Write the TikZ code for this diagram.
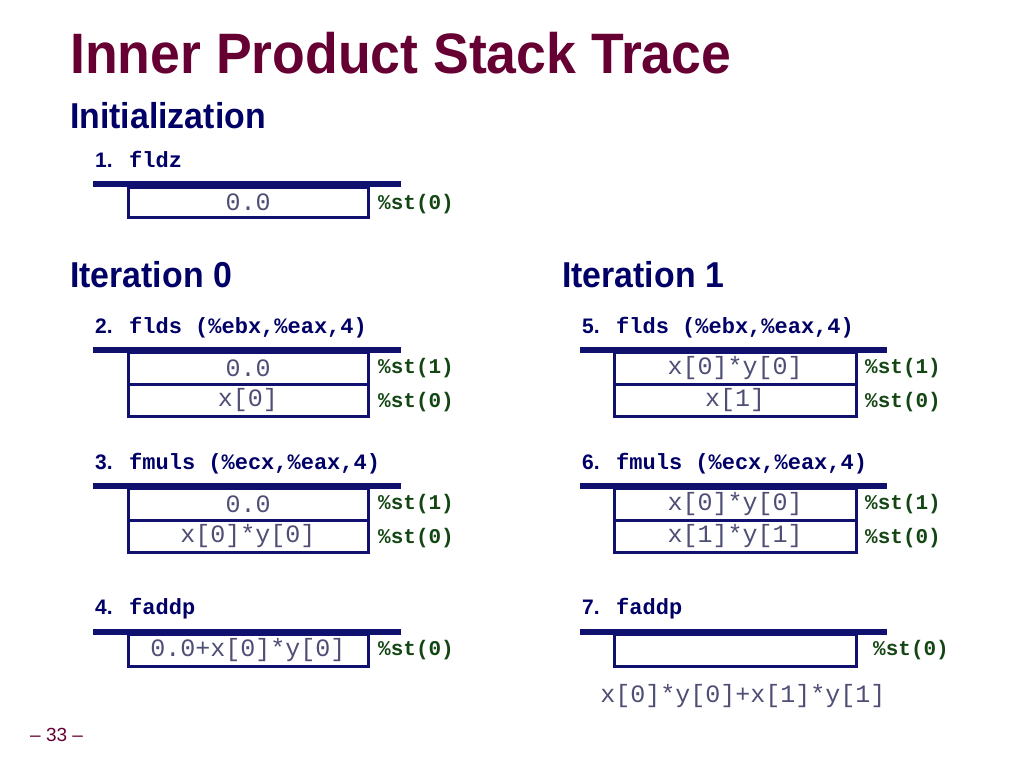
\documentclass[tikz,border=0pt]{standalone}
\usepackage{fontspec}
\setmainfont{Liberation Sans}
\setmonofont{Liberation Mono}
\newfontfamily\headfont{Liberation Sans}[FakeStretch=0.94]
\usetikzlibrary{positioning}
\definecolor{titlemaroon}{RGB}{102,0,51}
\definecolor{headnavy}{RGB}{0,0,102}
\definecolor{stacknavy}{RGB}{16,16,110}
\definecolor{cellgray}{RGB}{78,78,118}
\definecolor{reggreen}{RGB}{20,70,20}

\begin{document}
\begin{tikzpicture}[x=1pt, y=-1pt,
title/.style={anchor=base west, inner sep=0pt, text=titlemaroon, font=\headfont\bfseries\fontsize{57}{60}\selectfont},
head/.style={anchor=base west, inner sep=0pt, text=headnavy, font=\headfont\bfseries\fontsize{36}{40}\selectfont},
num/.style={anchor=base west, inner sep=0pt, text=headnavy, font=\bfseries\fontsize{21}{22}\selectfont},
instr/.style={anchor=base west, inner sep=0pt, text=headnavy, font=\ttfamily\bfseries\fontsize{22}{24}\selectfont},
cell/.style={draw=stacknavy, line width=3pt, minimum width=240pt, minimum height=32pt, inner sep=0pt, outer sep=0pt, text=cellgray, font=\ttfamily\fontsize{25}{26}\selectfont},
reg/.style={anchor=west, inner sep=0pt, text=reggreen, font=\ttfamily\bfseries\fontsize{21}{22}\selectfont},
bar/.style={draw=stacknavy, line width=6pt}
]
\useasboundingbox (0,0) rectangle (1024,768);
%Headings
\node[title] (ttl) at (70,74) {Inner Product Stack Trace};
\node[head]  (init) at (70,128) {Initialization};
\node[head]  (it0)  at (70,287) {Iteration 0};
\node[head]  (it1)  at (562,287) {Iteration 1};
\node[anchor=base west, inner sep=0pt, text=titlemaroon, font=\fontsize{19}{20}\selectfont] (page) at (30,741) {-- 33 --};
%Steps
\node[num]   (n1) at (95,167)  {1.};
\node[instr] (i1) at (129,167) {fldz};
\node[num]   (n2) at (95,333)  {2.};
\node[instr] (i2) at (129,333) {flds (\%ebx,\%eax,4)};
\node[num]   (n3) at (95,469)  {3.};
\node[instr] (i3) at (129,469) {fmuls (\%ecx,\%eax,4)};
\node[num]   (n4) at (95,614)  {4.};
\node[instr] (i4) at (129,614) {faddp};
\node[num]   (n5) at (582,333) {5.};
\node[instr] (i5) at (616,333) {flds (\%ebx,\%eax,4)};
\node[num]   (n6) at (582,469) {6.};
\node[instr] (i6) at (616,469) {fmuls (\%ecx,\%eax,4)};
\node[num]   (n7) at (582,614) {7.};
\node[instr] (i7) at (616,614) {faddp};
%Bars
\coordinate (b1l) at (93,184);  \coordinate (b1r) at (401,184);
\coordinate (b2l) at (93,350);  \coordinate (b2r) at (401,350);
\coordinate (b3l) at (93,486);  \coordinate (b3r) at (401,486);
\coordinate (b4l) at (93,632);  \coordinate (b4r) at (401,632);
\coordinate (b5l) at (580,350); \coordinate (b5r) at (887,350);
\coordinate (b6l) at (580,486); \coordinate (b6r) at (887,486);
\coordinate (b7l) at (580,632); \coordinate (b7r) at (887,632);
\draw[bar] (b1l) -- (b1r);
\draw[bar] (b2l) -- (b2r);
\draw[bar] (b3l) -- (b3r);
\draw[bar] (b4l) -- (b4r);
\draw[bar] (b5l) -- (b5r);
\draw[bar] (b6l) -- (b6r);
\draw[bar] (b7l) -- (b7r);
%Cells
\node[cell, minimum height=30pt] (c1) at (248,202) {0.0};
\node[cell]  (c2a) at (248,368)              {0.0};
\node[cell]  (c2b) [below=0pt of c2a]        {x[0]};
\node[cell]  (c3a) at (248,504)              {0.0};
\node[cell]  (c3b) [below=0pt of c3a]        {x[0]*y[0]};
\node[cell]  (c4)  at (248,650)              {0.0+x[0]*y[0]};
\node[cell, minimum width=242pt] (c5a) at (735,368) {x[0]*y[0]};
\node[cell, minimum width=242pt] (c5b) [below=0pt of c5a] {x[1]};
\node[cell, minimum width=242pt] (c6a) at (735,504) {x[0]*y[0]};
\node[cell, minimum width=242pt] (c6b) [below=0pt of c6a] {x[1]*y[1]};
\node[cell, minimum width=242pt] (c7)  at (735,650) {};
\node[anchor=base, inner sep=0pt, text=cellgray, font=\ttfamily\fontsize{25}{26}\selectfont] (sum) at (743,702) {x[0]*y[0]+x[1]*y[1]};
%Registers
\node[reg] (r1)  [right=10pt of c1, yshift=-2pt]  {\%st(0)};
\node[reg] (r2a) [right=10pt of c2a] {\%st(1)};
\node[reg] (r2b) [right=10pt of c2b, yshift=-2pt] {\%st(0)};
\node[reg] (r3a) [right=10pt of c3a] {\%st(1)};
\node[reg] (r3b) [right=10pt of c3b, yshift=-2pt] {\%st(0)};
\node[reg] (r4)  [right=10pt of c4]  {\%st(0)};
\node[reg] (r5a) [right=9pt of c5a]  {\%st(1)};
\node[reg] (r5b) [right=9pt of c5b, yshift=-2pt]  {\%st(0)};
\node[reg] (r6a) [right=9pt of c6a]  {\%st(1)};
\node[reg] (r6b) [right=9pt of c6b, yshift=-2pt]  {\%st(0)};
\node[reg] (r7)  [right=17pt of c7]  {\%st(0)};
\end{tikzpicture}
\end{document}
